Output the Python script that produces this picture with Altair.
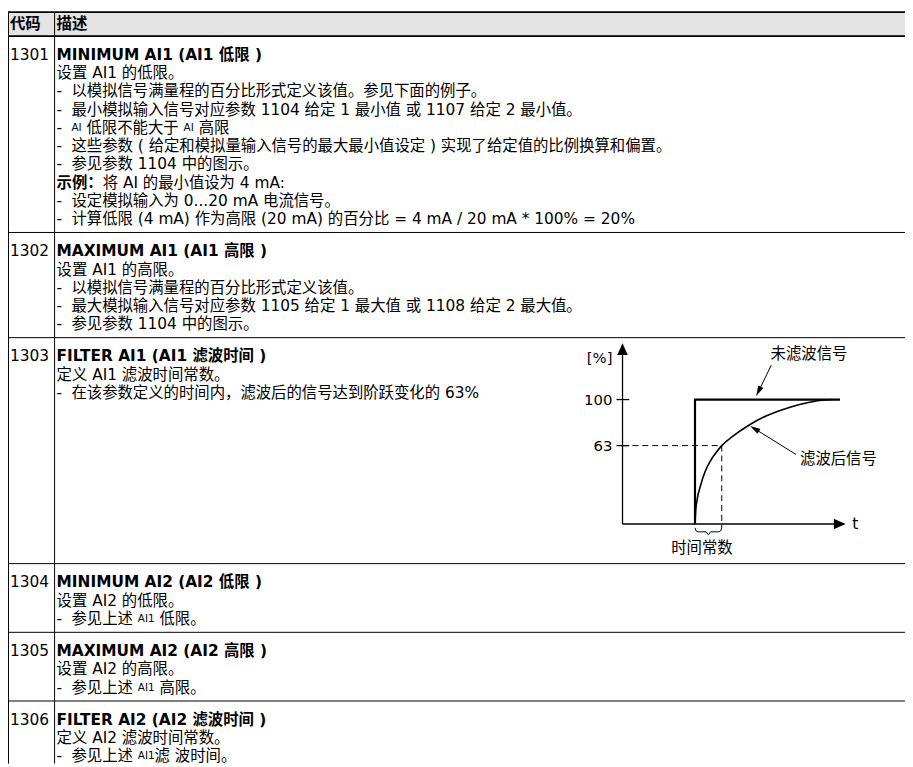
import math
import altair as alt
import pandas as pd

FONT = "DejaVu Sans, Noto Sans CJK SC"
FS = 15.5
FS_SMALL = 10.5
W, H = 905, 759

# ---------------- table content ----------------
header = ["代码", "描述"]
codes = ["1301", "1302", "1303", "1304", "1305", "1306"]
titles = ["MINIMUM AI1 (AI1 低限 )", "MAXIMUM AI1 (AI1 高限 )", "FILTER AI1 (AI1 滤波时间 )",
          "MINIMUM AI2 (AI2 低限 )", "MAXIMUM AI2 (AI2 高限 )", "FILTER AI2 (AI2 滤波时间 )"]
bodies = [
    [("plain", "设置 AI1 的低限。"),
     ("bullet", "以模拟信号满量程的百分比形式定义该值。参见下面的例子。"),
     ("bullet", "最小模拟输入信号对应参数 1104 给定 1 最小值 或 1107 给定 2 最小值。"),
     ("bullet", [("AI", "s"), (" 低限不能大于 ", "n"), ("AI", "s"), (" 高限", "n")]),
     ("bullet", "这些参数 ( 给定和模拟量输入信号的最大最小值设定 ) 实现了给定值的比例换算和偏置。"),
     ("bullet", "参见参数 1104 中的图示。"),
     ("plain", [("示例：", "b"), ("将 AI 的最小值设为 4 mA:", "n")]),
     ("bullet", "设定模拟输入为 0...20 mA 电流信号。"),
     ("bullet", "计算低限 (4 mA) 作为高限 (20 mA) 的百分比 = 4 mA / 20 mA * 100% = 20%")],
    [("plain", "设置 AI1 的高限。"),
     ("bullet", "以模拟信号满量程的百分比形式定义该值。"),
     ("bullet", "最大模拟输入信号对应参数 1105 给定 1 最大值 或 1108 给定 2 最大值。"),
     ("bullet", "参见参数 1104 中的图示。")],
    [("plain", "定义 AI1 滤波时间常数。"),
     ("bullet", "在该参数定义的时间内，滤波后的信号达到阶跃变化的 63%")],
    [("plain", "设置 AI2 的低限。"),
     ("bullet", [("参见上述 ", "n"), ("AI1", "s"), (" 低限。", "n")])],
    [("plain", "设置 AI2 的高限。"),
     ("bullet", [("参见上述 ", "n"), ("AI1", "s"), (" 高限。", "n")])],
    [("plain", "定义 AI2 滤波时间常数。"),
     ("bullet", [("参见上述 ", "n"), ("AI1", "s"), ("滤 波时间。", "n")])],
]
chart_row = 2

# ---------------- filter diagram content ----------------
y_ticks = [63, 100]
y_tick_labels = ["63", "100"]
step_t = [3.25, 3.25, 9.75]
step_v = [0, 100, 100]
curve_t = [3.25, 3.28, 3.35, 3.5, 3.7, 3.95, 4.2, 4.45, 4.98, 5.72, 6.46, 7.2, 7.94, 8.68, 9.42]
curve_v = [0, 10, 20, 31, 42, 51, 57.5, 63, 71, 80, 87, 92, 96, 98.8, 100]
tau_t, tau_v = 4.45, 63
brace_t = [3.25, 3.3, 3.4, 3.75, 3.85, 3.95, 4.3, 4.4, 4.45]
brace_v = [-3.1, -5.6, -6.3, -6.3, -8.7, -6.3, -6.3, -5.6, -3.1]

# ---------------- layout (chart px) ----------------
X_CODE, X_DESC, X_BULLET, X_DIV = 2, 49, 64, 47
HEADER_H, PITCH, PAD_TOP, PAD_BOT, CHART_ROW_H = 25, 18.4, 19, 13.5, 228

LAT = {" ": .318, "A": .684, "I": .295, "m": .974, "(": .39, ")": .39, ":": .337,
       ".": .318, "/": .337, "*": .5, "%": .95, "=": .838}


def tw(s, st):
    size = FS_SMALL if st == "s" else FS
    w = 0.0
    for ch in s:
        if ord(ch) >= 0x2E80:
            w += 1.0
        elif ch.isdigit():
            w += 0.636
        else:
            w += LAT.get(ch, 0.6)
    return w * size


recs = [dict(x=X_CODE, y=HEADER_H / 2 + 0.5, text=header[0], st="b"),
        dict(x=X_DESC, y=HEADER_H / 2 + 0.5, text=header[1], st="b")]
hlines = [0.8, HEADER_H]
top = HEADER_H
row_tops = []
for i, (code, title, body) in enumerate(zip(codes, titles, bodies)):
    row_tops.append(top)
    recs.append(dict(x=X_CODE, y=top + PAD_TOP, text=code, st="n"))
    recs.append(dict(x=X_DESC, y=top + PAD_TOP, text=title, st="b"))
    for j, (kind, segs) in enumerate(body, start=1):
        yy = top + PAD_TOP + j * PITCH
        if isinstance(segs, str):
            segs = [(segs, "n")]
        if kind == "bullet":
            recs.append(dict(x=X_DESC, y=yy, text="-", st="n"))
            xx = X_BULLET
        else:
            xx = X_DESC
        for txt, st in segs:
            lead = len(txt) - len(txt.lstrip())
            trail = len(txt) - len(txt.rstrip())
            core = txt.strip()
            xx += lead * LAT[" "] * FS
            recs.append(dict(x=xx, y=yy, text=core, st=st))
            xx += tw(core, st) + trail * LAT[" "] * FS
    h = CHART_ROW_H if i == chart_row else PAD_TOP + len(body) * PITCH + PAD_BOT
    top += h
    hlines.append(top)

text_df = pd.DataFrame(recs)


def xs():
    return alt.Scale(domain=[0, W], range=[0, W], nice=False, zero=False)


def ys():
    return alt.Scale(domain=[0, H], range=[0, H], nice=False, zero=False)


def text_layer(st, **kw):
    return alt.Chart(text_df).transform_filter(alt.datum.st == st).mark_text(
        font=FONT, align="left", baseline="middle", color="black", **kw
    ).encode(
        x=alt.X("x:Q", scale=xs(), axis=None),
        y=alt.Y("y:Q", scale=ys(), axis=None),
        text="text:N",
    )


header_rect = alt.Chart(pd.DataFrame([{"y": 0.8, "y2": HEADER_H}])).mark_rect(color="#e4e4e4").encode(
    x=alt.value(0), x2=alt.value(W),
    y=alt.Y("y:Q", scale=ys(), axis=None), y2="y2:Q")

hrule = alt.Chart(pd.DataFrame({"y": hlines, "w": [1.6, 1.6] + [1.0] * (len(hlines) - 2)})).mark_rule(color="black").encode(
    x=alt.value(0), x2=alt.value(W),
    y=alt.Y("y:Q", scale=ys(), axis=None),
    strokeWidth=alt.StrokeWidth("w:Q", scale=None))

vdf = pd.DataFrame([{"y": 0.8, "y2": H}])
vrule_div = alt.Chart(vdf).mark_rule(color="black", strokeWidth=1).encode(
    x=alt.value(X_DIV), y=alt.Y("y:Q", scale=ys(), axis=None), y2="y2:Q")
vrule_left = alt.Chart(vdf).mark_rule(color="black", strokeWidth=1).encode(
    x=alt.value(0.5), y=alt.Y("y:Q", scale=ys(), axis=None), y2="y2:Q")

# ---------------- diagram ----------------
ct = row_tops[chart_row]
T_DOM, T_RNG = [0, 10], [620, 845]
V_DOM = [0, 145]
V_RNG = [ct + 188, ct + 6]
PX_T = (T_RNG[1] - T_RNG[0]) / (T_DOM[1] - T_DOM[0])
PX_V = (V_RNG[0] - V_RNG[1]) / (V_DOM[1] - V_DOM[0])


def tx(field="t"):
    return alt.X(f"{field}:Q", scale=alt.Scale(domain=T_DOM, range=T_RNG, nice=False, zero=False), axis=None)


def vy(field="v"):
    return alt.Y(f"{field}:Q", scale=alt.Scale(domain=V_DOM, range=V_RNG, nice=False, zero=False), axis=None)


segs = []


def add_seg(name, ts, vs, grp):
    for k, (t, v) in enumerate(zip(ts, vs)):
        segs.append(dict(seg=name, o=k, t=t, v=v, g=grp))


add_seg("yaxis", [0, 0], [0, 141], "axis")
add_seg("xaxis", [0, 9.7], [0, 0], "axis")
for yt in y_ticks:
    add_seg(f"tick{yt}", [-0.27, 0.3], [yt, yt], "axis")
add_seg("step", step_t, step_v, "step")
add_seg("curve", curve_t, curve_v, "curve")
add_seg("dash_h", [0, tau_t], [tau_v, tau_v], "dash")
add_seg("dash_v", [tau_t, tau_t], [tau_v, -3.1], "dash")
add_seg("brace", brace_t, brace_v, "thin")

heads = []
ARROW = "M0,-1L0.55,1L-0.55,1Z"
AXHEAD = "M0,-1L0.9,1L-0.9,1Z"


def add_arrow(name, t1, v1, t2, v2, hl=5):
    dx = (t2 - t1) * PX_T
    dy = -(v2 - v1) * PX_V
    ln = math.hypot(dx, dy)
    ang = math.degrees(math.atan2(dx, -dy)) % 360
    tc = t2 - hl * dx / ln / PX_T
    vc = v2 + hl * dy / ln / PX_V
    add_seg(name, [t1, tc], [v1, vc], "thin")
    heads.append(dict(t=tc, v=vc, a=ang))


add_arrow("a1", 6.67, 127.6, 6.0, 103)
add_arrow("a2", 7.78, 55.9, 5.73, 78.7)
seg_df = pd.DataFrame(segs)
head_df = pd.DataFrame(heads)
axhead_df = pd.DataFrame([dict(t=0, v=140.5, a=0), dict(t=9.74, v=0, a=90)])


def line_layer(grp, **kw):
    return alt.Chart(seg_df).transform_filter(alt.datum.g == grp).mark_line(color="black", **kw).encode(
        x=tx(), y=vy(), detail="seg:N", order="o:Q")


diag_lines = [
    line_layer("axis", strokeWidth=1.3),
    line_layer("step", strokeWidth=2.2, strokeJoin="miter"),
    line_layer("curve", strokeWidth=1.6, interpolate="monotone"),
    line_layer("dash", strokeWidth=1, strokeDash=[6, 4]),
    line_layer("thin", strokeWidth=1),
]
heads_layer = alt.Chart(head_df).mark_point(shape=ARROW, filled=True, color="black", size=110, opacity=1).encode(
    x=tx(), y=vy(), angle=alt.Angle("a:Q", scale=None))
axheads_layer = alt.Chart(axhead_df).mark_point(shape=AXHEAD, filled=True, color="black", size=140, opacity=1).encode(
    x=tx(), y=vy(), angle=alt.Angle("a:Q", scale=None))

lab_df = pd.DataFrame({"t": [-0.45] * len(y_ticks) + [-0.45], "v": y_ticks + [133],
                       "text": y_tick_labels + ["[%]"]})
lab_layer = alt.Chart(lab_df).mark_text(font=FONT, fontSize=15, align="right", baseline="middle", color="black").encode(
    x=tx(), y=vy(), text="text:N")
ann_df = pd.DataFrame([
    dict(t=10.3, v=0, text="t", al="left"),
    dict(t=8.36, v=137, text="未滤波信号", al="center"),
    dict(t=7.96, v=52, text="滤波后信号", al="left"),
    dict(t=3.56, v=-19, text="时间常数", al="center"),
])
ann_left = alt.Chart(ann_df).transform_filter(alt.datum.al == "left").mark_text(
    font=FONT, fontSize=FS, align="left", baseline="middle", color="black").encode(x=tx(), y=vy(), text="text:N")
ann_center = alt.Chart(ann_df).transform_filter(alt.datum.al == "center").mark_text(
    font=FONT, fontSize=FS, align="center", baseline="middle", color="black").encode(x=tx(), y=vy(), text="text:N")

layers = [header_rect, hrule, vrule_div, vrule_left,
          text_layer("n", fontSize=FS), text_layer("b", fontSize=FS, fontWeight="bold"),
          text_layer("s", fontSize=FS_SMALL)] + diag_lines + [heads_layer, axheads_layer, lab_layer, ann_left, ann_center]

chart = alt.layer(*layers).resolve_scale(x="independent", y="independent").properties(
    width=W, height=H, autosize=alt.AutoSizeParams(type="none"), padding=0, background="white"
).configure_view(stroke=None)

chart.save("out.html", embed_options={"renderer": "svg", "actions": False})
